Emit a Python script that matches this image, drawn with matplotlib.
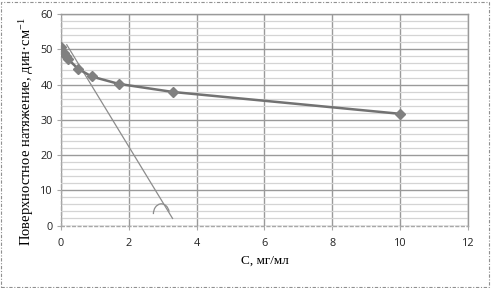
import matplotlib.pyplot as plt
from matplotlib.patches import Arc, Rectangle
from matplotlib.ticker import MultipleLocator

# concentration, mg/ml and surface tension, dyn/cm
conc = [0, 0.1, 0.15, 0.2, 0.5, 0.9, 1.7, 3.3, 10]
tension = [50.8, 48.9, 48.0, 47.3, 44.5, 42.3, 40.2, 37.9, 31.7]

# tangent drawn at the start of the curve
tangent_x = [0.17, 3.29]
tangent_y = [51.3, 2.0]

# angle mark near the tangent's lower end
arc_center = (2.96, 3.3)
arc_size = (0.47, 5.7)

x_ticks = [0, 2, 4, 6, 8, 10, 12]
y_ticks = [0, 10, 20, 30, 40, 50, 60]

tick_font = 'Open Sans'
label_font = 'Liberation Serif'

plt.rcParams['mathtext.fontset'] = 'custom'
plt.rcParams['mathtext.rm'] = label_font
plt.rcParams['mathtext.it'] = label_font


def main():
    fig = plt.figure(figsize=(4.92, 2.88), dpi=100)
    ax = fig.add_axes([0.124, 0.217, 0.827, 0.734])

    ax.set_xlim(0, 12)
    ax.set_ylim(0, 60)
    ax.set_xticks(x_ticks)
    ax.set_yticks(y_ticks)
    ax.yaxis.set_minor_locator(MultipleLocator(2))

    ax.grid(axis='y', which='minor', color='#d4d4d4', linewidth=0.9)
    ax.grid(axis='y', which='major', color='#9a9a9a', linewidth=1.0)
    ax.grid(axis='x', which='major', color='#9a9a9a', linewidth=1.0)
    ax.set_axisbelow(True)

    for side in ['top', 'right']:
        ax.spines[side].set_color('#9a9a9a')
        ax.spines[side].set_linewidth(1.0)
    for side in ['left', 'bottom']:
        ax.spines[side].set_color('#a8a8a8')
        ax.spines[side].set_linewidth(1.0)
        ax.spines[side].set_linestyle((0, (2, 2)))

    ax.tick_params(which='major', length=3, color='#a8a8a8', width=0.8,
                   labelsize=7.8, labelcolor='#222222', pad=3)
    ax.tick_params(which='minor', length=0)
    ax.tick_params(axis='x', pad=6)
    for lab in ax.get_xticklabels() + ax.get_yticklabels():
        lab.set_fontfamily(tick_font)

    ax.plot(conc, tension, color='#727272', linewidth=1.8,
            marker='D', markersize=5, markerfacecolor='#808080',
            markeredgecolor='#808080', zorder=3)
    ax.plot(tangent_x, tangent_y, color='#8c8c8c', linewidth=0.9, zorder=2)
    ax.add_patch(Arc(arc_center, arc_size[0], arc_size[1], theta1=70,
                     theta2=195, color='#8c8c8c', linewidth=0.9))

    ax.set_xlabel('C, мг/мл', family=label_font, fontsize=9.5, labelpad=4)
    ax.set_ylabel('Поверхностное натяжение, дин·см$^{-1}$',
                  family=label_font, fontsize=10.5, labelpad=3)
    ax.yaxis.label.set_y(0.445)

    fig.patches.append(Rectangle((0.002, 0.004), 0.992, 0.99,
                                 transform=fig.transFigure, fill=False,
                                 edgecolor='#909090', linewidth=0.8,
                                 linestyle=(0, (3, 1.5, 1, 1.5))))

    fig.savefig('out.png', dpi=100)


if __name__ == '__main__':
    main()
